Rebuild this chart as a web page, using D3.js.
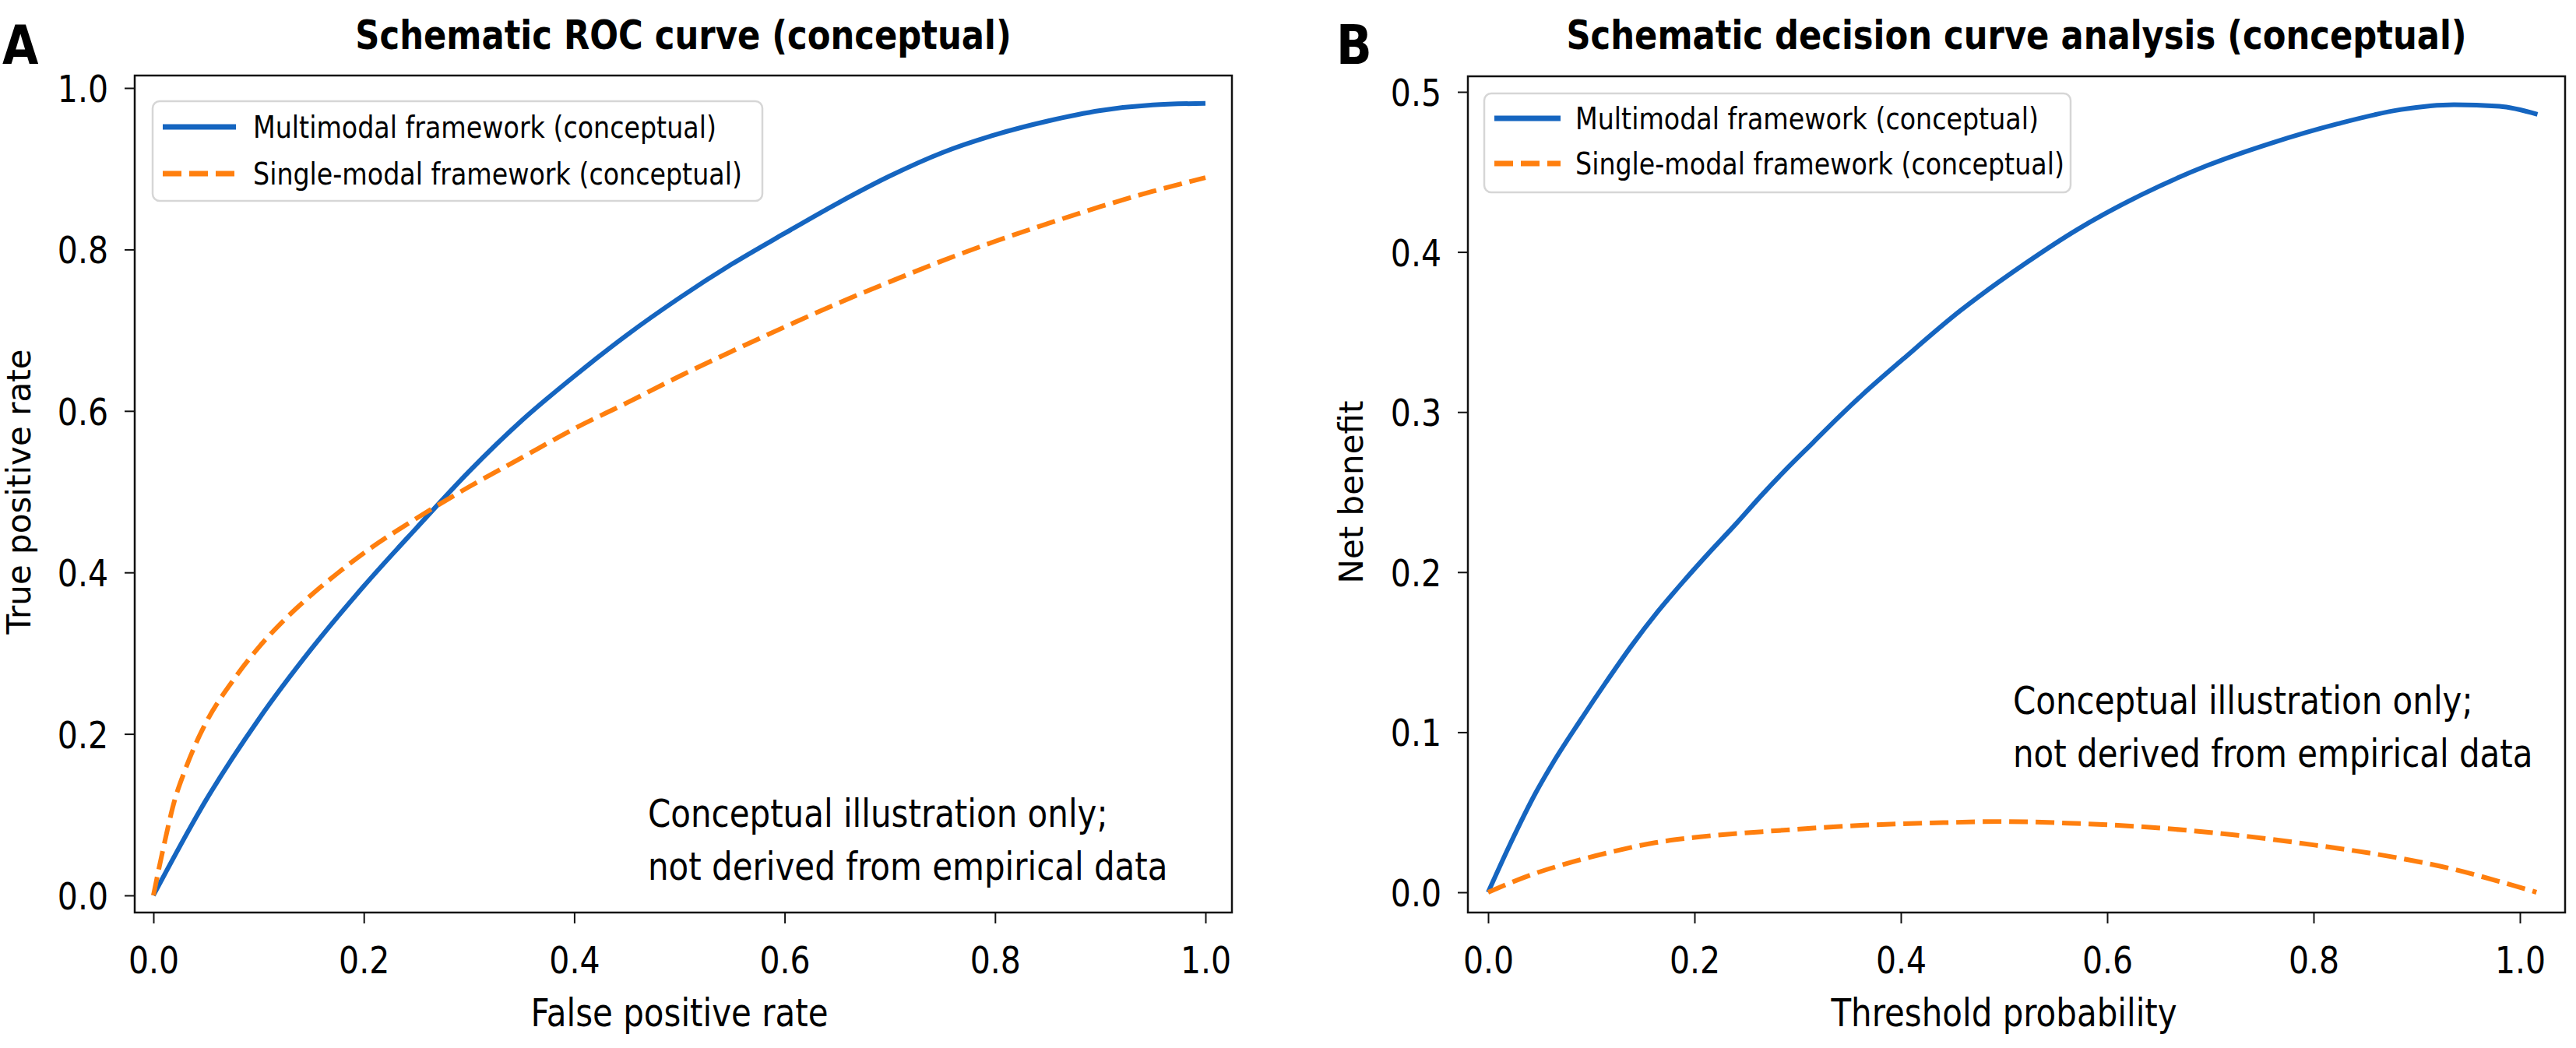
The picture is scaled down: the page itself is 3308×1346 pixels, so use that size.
<!DOCTYPE html>
<html>
<head>
<meta charset="utf-8">
<script src="https://cdn.jsdelivr.net/npm/d3@7"></script>
<style>
  body { margin: 0; background: #fff; }
  text { font-family: 'DejaVu Sans', sans-serif; fill: #000; }
</style>
</head>
<body>
<div id="chart"></div>
<script>
// ---- data ----
const seriesNames = ['Multimodal framework (conceptual)', 'Single-modal framework (conceptual)']
const unitTicks = [0, 0.2, 0.4, 0.6, 0.8, 1.0]
const dcaYTicks = [0, 0.1, 0.2, 0.3, 0.4, 0.5]

// A: ROC
const rocMultiX = [0, 0.05, 0.10, 0.15, 0.20, 0.25, 0.30, 0.35, 0.40, 0.45, 0.50, 0.55, 0.60,
  0.65, 0.70, 0.75, 0.80, 0.85, 0.90, 0.95, 1.0]
const rocMultiY = [0, 0.118, 0.218, 0.305, 0.383, 0.455, 0.525, 0.588, 0.643, 0.694, 0.740, 0.782,
  0.820, 0.857, 0.891, 0.920, 0.942, 0.959, 0.972, 0.979, 0.981]
const rocSingleX = [0, 0.01, 0.02, 0.03, 0.04, 0.05, 0.075, 0.10, 0.125, 0.15, 0.175, 0.20, 0.25,
  0.30, 0.35, 0.40, 0.45, 0.50, 0.55, 0.60, 0.65, 0.70, 0.75, 0.80, 0.85, 0.90, 0.95, 1.0]
const rocSingleY = [0, 0.062, 0.117, 0.155, 0.187, 0.214, 0.265, 0.307, 0.342, 0.372, 0.399, 0.424,
  0.467, 0.506, 0.542, 0.578, 0.610, 0.643, 0.674, 0.704, 0.733, 0.760, 0.786, 0.810, 0.832,
  0.853, 0.872, 0.889]

// B: decision curve
const dcaMultiX = [0, 0.022, 0.046, 0.063, 0.089, 0.114, 0.139, 0.164, 0.189, 0.214, 0.240, 0.265,
  0.290, 0.315, 0.340, 0.363, 0.402, 0.457, 0.521, 0.571, 0.634, 0.697, 0.759, 0.823, 0.885,
  0.936, 0.980, 1.017]
const dcaMultiY = [0, 0.031, 0.062, 0.081, 0.107, 0.131, 0.154, 0.175, 0.194, 0.212, 0.230, 0.248,
  0.265, 0.281, 0.297, 0.311, 0.333, 0.363, 0.393, 0.414, 0.436, 0.454, 0.468, 0.480, 0.489,
  0.492, 0.491, 0.486]
const dcaSingleX = [0, 0.042, 0.082, 0.122, 0.162, 0.202, 0.282, 0.361, 0.441, 0.497, 0.561, 0.641,
  0.721, 0.801, 0.880, 0.937, 0.984, 1.016]
const dcaSingleY = [0, 0.011, 0.019, 0.0256, 0.031, 0.0344, 0.0386, 0.0418, 0.0435, 0.0442, 0.0432,
  0.0406, 0.036, 0.0295, 0.0217, 0.0142, 0.006, 0]

const noteLines = ['Conceptual illustration only;', 'not derived from empirical data']

// ---- styles ----
const W = 3308
const H = 1346
const S = 1.17 // horizontal text in the reference is drawn a bit taller than normal
const c_blue = '#1565c0'
const c_orange = '#ff7f0e'

const panels = [
  {
    letter: 'A', letterX: 3,
    title: 'Schematic ROC curve (conceptual)',
    xLabel: 'False positive rate', yLabel: 'True positive rate',
    frame: { l: 173, r: 1582, t: 97, b: 1172 },
    x: d3.scaleLinear().domain([0, 1]).range([197, 1548]),
    y: d3.scaleLinear().domain([0, 1]).range([1150, 113]),
    yTicks: unitTicks, yLabelX: 39,
    legend: { x: 196, y: 130, w: 783, h: 128, l0: 209, l1: 303, rows: [163, 223], tx: 325 },
    note: { x: 832, y: 1062 },
    series: [[rocMultiX, rocMultiY], [rocSingleX, rocSingleY]]
  },
  {
    letter: 'B', letterX: 1716,
    title: 'Schematic decision curve analysis (conceptual)',
    xLabel: 'Threshold probability', yLabel: 'Net benefit',
    frame: { l: 1885, r: 3294, t: 98, b: 1172 },
    x: d3.scaleLinear().domain([0, 1]).range([1911, 3236]),
    y: d3.scaleLinear().domain([0, 0.5]).range([1146, 118]),
    yTicks: dcaYTicks, yLabelX: 1750,
    legend: { x: 1906, y: 120, w: 753, h: 127, l0: 1919, l1: 2004, rows: [152, 210], tx: 2023 },
    note: { x: 2585, y: 917 },
    series: [[dcaMultiX, dcaMultiY], [dcaSingleX, dcaSingleY]]
  }
]

const styles = [
  { color: c_blue, dash: null },
  { color: c_orange, dash: '24,10' }
]

const svg = d3.select('#chart')
  .append('svg')
  .attr('width', W)
  .attr('height', H)

svg.append('rect').attr('width', W).attr('height', H).attr('fill', '#fff')

// text with the reference's vertical stretch
function stext (g, x, y, str, size, anchor = 'start', weight = 'normal') {
  return g.append('text')
    .attr('transform', `translate(${x},${y}) scale(1,${S})`)
    .attr('text-anchor', anchor)
    .style('font-size', size + 'px')
    .style('font-weight', weight)
    .text(str)
}

panels.forEach((p) => {
  let g = svg.append('g')
  let f = p.frame
  let x = p.x
  let y = p.y

  // series
  let line = d3.line()
    .x((d) => x(d[0]))
    .y((d) => y(d[1]))
    .curve(d3.curveMonotoneX)

  p.series.forEach((s, i) => {
    let pts = s[0].map((v, j) => [v, s[1][j]])
    g.append('path')
      .datum(pts)
      .attr('d', line)
      .attr('fill', 'none')
      .attr('stroke', styles[i].color)
      .attr('stroke-width', 6)
      .attr('stroke-dasharray', styles[i].dash)
  })

  // frame
  g.append('rect')
    .attr('x', f.l).attr('y', f.t)
    .attr('width', f.r - f.l).attr('height', f.b - f.t)
    .attr('fill', 'none')
    .attr('stroke', '#111')
    .attr('stroke-width', 2.5)

  // x axis
  let xa = g.append('g')
    .attr('transform', `translate(0,${f.b})`)
    .call(d3.axisBottom(x).tickValues(unitTicks).tickSize(14).tickFormat(d3.format('.1f')))
  xa.select('.domain').remove()
  xa.selectAll('line').attr('stroke', '#111').attr('stroke-width', 2)
  xa.selectAll('text')
    .attr('y', null).attr('dy', null)
    .attr('transform', `translate(0,${1250 - f.b}) scale(1,${S})`)
    .style('font-size', '41px')
    .attr('fill', '#000')

  // y axis
  let ya = g.append('g')
    .attr('transform', `translate(${f.l},0)`)
    .call(d3.axisLeft(y).tickValues(p.yTicks).tickSize(13).tickFormat(d3.format('.1f')))
  ya.select('.domain').remove()
  ya.selectAll('line').attr('stroke', '#111').attr('stroke-width', 2)
  ya.selectAll('text')
    .attr('x', null).attr('dy', null)
    .attr('transform', `translate(-34,17.5) scale(1,${S})`)
    .style('font-size', '41px')
    .attr('fill', '#000')

  // labels
  stext(g, (x.range()[0] + x.range()[1]) / 2, 1318, p.xLabel, 42, 'middle')
  g.append('text')
    .attr('transform', `translate(${p.yLabelX},${(y.range()[0] + y.range()[1]) / 2}) rotate(-90)`)
    .attr('text-anchor', 'middle')
    .style('font-size', '42px')
    .text(p.yLabel)

  stext(g, (f.l + f.r) / 2, 63, p.title, 43.3, 'middle', 'bold')
  stext(g, p.letterX, 82, p.letter, 60, 'start', 'bold')

  // legend
  let lg = p.legend
  g.append('rect')
    .attr('x', lg.x).attr('y', lg.y)
    .attr('width', lg.w).attr('height', lg.h)
    .attr('rx', 9)
    .attr('fill', '#fff').attr('fill-opacity', 0.85)
    .attr('stroke', '#d6d6d6').attr('stroke-width', 2.5)
  seriesNames.forEach((name, i) => {
    let ry = lg.rows[i]
    g.append('line')
      .attr('x1', lg.l0).attr('x2', lg.l1)
      .attr('y1', ry).attr('y2', ry)
      .attr('stroke', styles[i].color)
      .attr('stroke-width', 7)
      .attr('stroke-dasharray', styles[i].dash)
    stext(g, lg.tx, ry + 14, name, 33.3)
  })

  // note
  noteLines.forEach((t, i) => {
    stext(g, p.note.x, p.note.y + i * 68, t, 42)
  })
})
</script>
</body>
</html>
